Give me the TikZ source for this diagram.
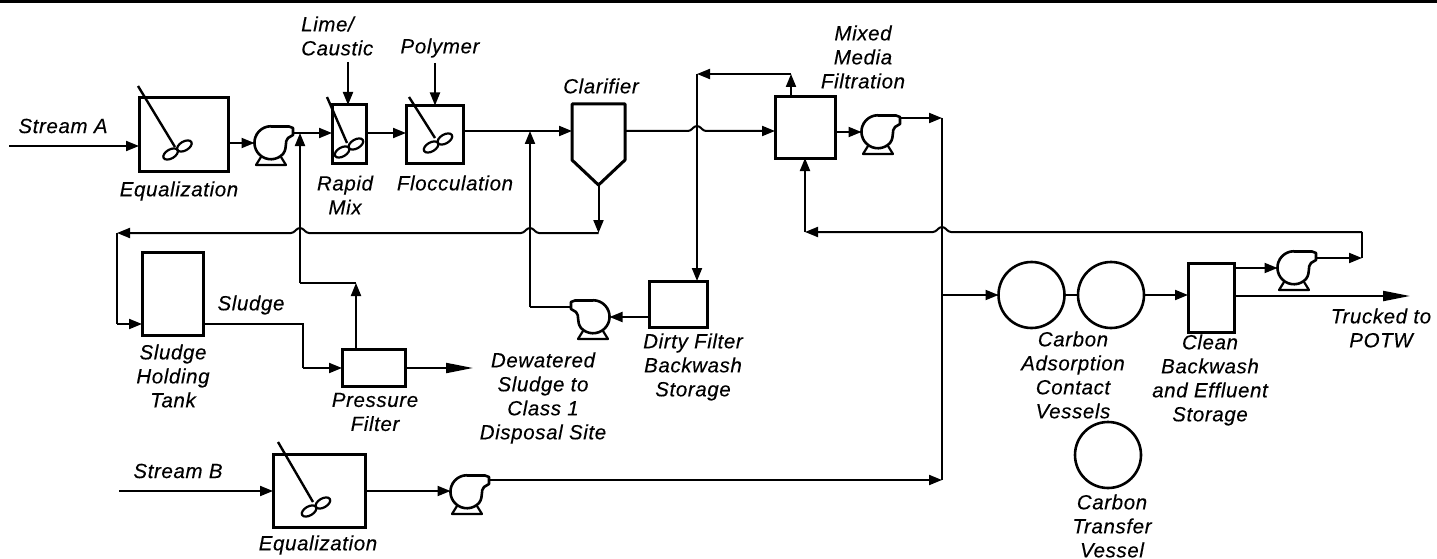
\documentclass[tikz,border=0pt]{standalone}
\usepackage{fontspec}
\setmainfont[LetterSpace=3,FakeBold=0.25]{Liberation Sans}
\usetikzlibrary{arrows.meta,calc}

\tikzset{
  pipe/.style={line width=2pt},
  flow/.style={pipe,-{Triangle[length=13pt,width=10pt]}},
  bigflow/.style={pipe,-{Triangle[length=27pt,width=10pt]}},
  tank/.style 2 args={draw,line width=3pt,minimum width=#1 pt,minimum height=#2 pt,inner sep=0pt,outer sep=0pt},
  vessel/.style={draw,circle,line width=2.6pt,minimum size=66pt,inner sep=0pt,outer sep=0pt},
  pumpbody/.style={circle,minimum size=33pt,inner sep=0pt,outer sep=0pt},
  lbl/.style={font=\fontsize{20.5}{24}\selectfont\itshape,align=center,inner sep=0pt}
}
% line jump over a vertical pipe
\newcommand{\hopleft}[2]{-- ({#1+9},#2) .. controls ({#1+5},#2) and ({#1+4},#2-5) .. (#1,#2-5) .. controls ({#1-4},#2-5) and ({#1-5},#2) .. ({#1-9},#2)}
\newcommand{\hopright}[2]{-- ({#1-9},#2) .. controls ({#1-5},#2) and ({#1-4},#2-5) .. (#1,#2-5) .. controls ({#1+4},#2-5) and ({#1+5},#2) .. ({#1+9},#2)}

\begin{document}
\begin{tikzpicture}[x=1pt,y=-1pt]
  \useasboundingbox (0,0) rectangle (1437,559);
  \fill[black] (0,0) rectangle (1437,3);

  % tanks
  \node[tank={89}{73}] (eqA) at (183.5,134.5) {};
  \node[tank={34}{58}] (rapid) at (349,134) {};
  \node[tank={57}{58}] (floc) at (434.5,134.5) {};
  \node[tank={60}{61}] (filter) at (805,127.5) {};
  \node[tank={61}{83}] (holding) at (172.5,293.5) {};
  \node[tank={63}{37}] (press) at (373.5,368) {};
  \node[tank={92}{73}] (eqB) at (319,490.5) {};
  \node[tank={58}{46}] (dirty) at (678,304) {};
  \node[tank={46}{69}] (clean) at (1211,297.5) {};
  \node[minimum width=53pt,minimum height=81pt,inner sep=0pt,outer sep=0pt] (clarifier) at (598.5,144.5) {};
  \draw[line width=3pt,line join=round] (clarifier.north west) -- (clarifier.north east) -- (625,160) -- (clarifier.south) -- (572,160) -- cycle;
  \node[vessel] (carbonA) at (1031.5,295) {};
  \node[vessel] (carbonB) at (1111,295) {};
  \node[vessel] (carbonC) at (1108,455) {};

  % mixers
  \foreach \xa/\ya/\xb/\yb/\xc/\yc in {138/86/175/147/177.5/150, 327/97/347/143/349/148, 409/97/435/138/438/143, 278/442/313/502/316/507}{
    \draw[line width=2.4pt] (\xa,\ya) -- (\xb,\yb);
    \begin{scope}[shift={(\xc,\yc)},rotate=30]
      \draw[line width=2.2pt] (-8,0) ellipse (8 and 4.5);
      \draw[line width=2.2pt] (8,0) ellipse (8 and 4.5);
    \end{scope}
  }

  % pumps
  \node[pumpbody] (pumpA) at (271,143) {};
  \node[pumpbody] (pumpB) at (467,492) {};
  \node[pumpbody] (pumpC) at (878,132) {};
  \node[pumpbody] (pumpD) at (593,317) {};
  \node[pumpbody] (pumpE) at (1294,268) {};
  \foreach \p/\s in {pumpA/1,pumpB/1,pumpC/1,pumpD/-1,pumpE/1}{
    \begin{scope}[shift={(\p)},xscale=\s]
      \draw[line width=2.6pt,line join=round] (0,-16.5) -- (18,-16.5) -- (22,-15) -- (22,-8) -- (17,-5) .. controls (13,-1) and (17,4) .. (12,11) arc (43:360-90:16.5) -- cycle;
      \draw[line width=2.2pt,line join=round] (-10,14) -- (-15,22) -- (15,22) -- (10,14);
      \coordinate (\p Out) at (22,-10);
    \end{scope}
  }

  % junctions and corners
  \coordinate (limeTop) at (348,62);
  \coordinate (polyTop) at (435,63);
  \coordinate (streamA) at (9,146);
  \coordinate (streamB) at (119,491);
  \coordinate (jA) at (300,133);
  \coordinate (jB) at (530,131);
  \coordinate (sludgeTurn) at (598.5,233);
  \coordinate (leftTurn) at (117,233);
  \coordinate (leftLow) at (117,324);
  \coordinate (sludgeA) at (303,324);
  \coordinate (sludgeB) at (303,368);
  \coordinate (returnA) at (356,283);
  \coordinate (returnB) at (300,283);
  \coordinate (pressOut) at (473,368);
  \coordinate (dirtyJ) at (530,307);
  \coordinate (washTurn) at (791,74);
  \coordinate (washTop) at (697,74);
  \coordinate (mainTop) at (942,118);
  \coordinate (mainLow) at (942,480);
  \coordinate (branch) at (942,295);
  \coordinate (recA) at (1362,258);
  \coordinate (recB) at (1362,232);
  \coordinate (recC) at (805,232);
  \coordinate (truck) at (1410,296);

  % stream A train
  \draw[flow] (streamA) -- (eqA.west |- streamA);
  \draw[flow] (eqA.east |- pumpA.west) -- (pumpA.west);
  \draw[pipe] (pumpAOut) -- (jA);
  \draw[flow] (jA) -- (rapid.west |- jA);
  \draw[flow] (rapid.east |- jA) -- (floc.west |- jA);
  \draw[pipe] (floc.east |- jB) -- (jB);
  \draw[flow] (jB) -- (clarifier.west |- jB);
  \draw[flow] (limeTop) -- (rapid.north -| limeTop);
  \draw[flow] (polyTop) -- (floc.north -| polyTop);
  \draw[flow] (clarifier.east |- jB) \hopright{697}{131} -- (filter.west |- jB);
  \draw[flow] (filter.east |- pumpC.west) -- (pumpC.west);
  \draw[flow] (pumpCOut |- mainTop) -- (mainTop);

  % sludge
  \draw[flow] (clarifier.south) -- (sludgeTurn);
  \draw[flow] (sludgeTurn) \hopleft{530}{233} \hopleft{300}{233} -- (leftTurn);
  \draw[pipe] (leftTurn) -- (leftLow);
  \draw[flow] (leftLow) -- (holding.west |- leftLow);
  \draw[pipe] (holding.east |- sludgeA) -- (sludgeA) -- (sludgeB);
  \draw[flow] (sludgeB) -- (press.west);
  \draw[bigflow] (press.east) -- (pressOut);
  \draw[flow] (press.north -| returnA) -- (returnA);
  \draw[pipe] (returnA) -- (returnB);
  \draw[flow] (returnB) -- (jA);

  % backwash
  \draw[flow] (filter.north -| washTurn) -- (washTurn);
  \draw[flow] (washTurn) -- (washTop);
  \draw[flow] (washTop) -- (dirty.north -| washTop);
  \draw[flow] (dirty.west |- pumpD.east) -- (pumpD.east);
  \draw[pipe] (pumpDOut) -- (dirtyJ);
  \draw[flow] (dirtyJ) -- (jB);

  % stream B and carbon train
  \draw[flow] (streamB) -- (eqB.west |- streamB);
  \draw[flow] (eqB.east |- streamB) -- (pumpB.west |- streamB);
  \draw[flow] (pumpBOut |- mainLow) -- (mainLow);
  \draw[pipe] (mainTop) -- (mainLow);
  \draw[flow] (branch) -- (carbonA.west);
  \draw[pipe] (carbonA.east) -- (carbonB.west);
  \draw[flow] (carbonB.east) -- (clean.west |- carbonB.east);
  \draw[flow] (clean.east |- pumpE.west) -- (pumpE.west);
  \draw[bigflow] (clean.east |- truck) -- (truck);
  \draw[flow] (pumpEOut) -- (recA);
  \draw[pipe] (recA) -- (recB);
  \draw[flow] (recB) \hopleft{942}{232} -- (recC);
  \draw[flow] (recC) -- (filter.south);

  % labels
  \node[lbl] (lblStreamA) at (63,126) {Stream A};
  \node[lbl] (lblEqA) at (179,191) {Equalization};
  \node[lbl,align=left,anchor=west] (lblLime) at (301,36) {Lime/\\Caustic};
  \node[lbl] (lblPolymer) at (440,48) {Polymer};
  \node[lbl] (lblRapid) at (345,195) {Rapid\\Mix};
  \node[lbl] (lblFloc) at (455,183) {Flocculation};
  \node[lbl] (lblClarifier) at (601,86) {Clarifier};
  \node[lbl] (lblMixed) at (863,57) {Mixed\\Media\\Filtration};
  \node[lbl] (lblHolding) at (173,376) {Sludge\\Holding\\Tank};
  \node[lbl] (lblSludge) at (251,305) {Sludge};
  \node[lbl] (lblPress) at (375,412) {Pressure\\Filter};
  \node[lbl] (lblStreamB) at (178,471) {Stream B};
  \node[lbl] (lblEqB) at (318,545) {Equalization};
  \node[lbl] (lblDewatered) at (543,398) {Dewatered\\Sludge to\\Class 1\\Disposal Site};
  \node[lbl] (lblDirty) at (693,367) {Dirty Filter\\Backwash\\Storage};
  \node[lbl] (lblTruck) at (1381,328) {Trucked to\\POTW};
  \node[lbl] (lblAdsorb) at (1073,375) {Carbon\\Adsorption\\Contact\\Vessels};
  \node[lbl] (lblClean) at (1210,380) {Clean\\Backwash\\and Effluent\\Storage};
  \node[lbl] (lblTransfer) at (1112,526) {Carbon\\Transfer\\Vessel};
\end{tikzpicture}
\end{document}
